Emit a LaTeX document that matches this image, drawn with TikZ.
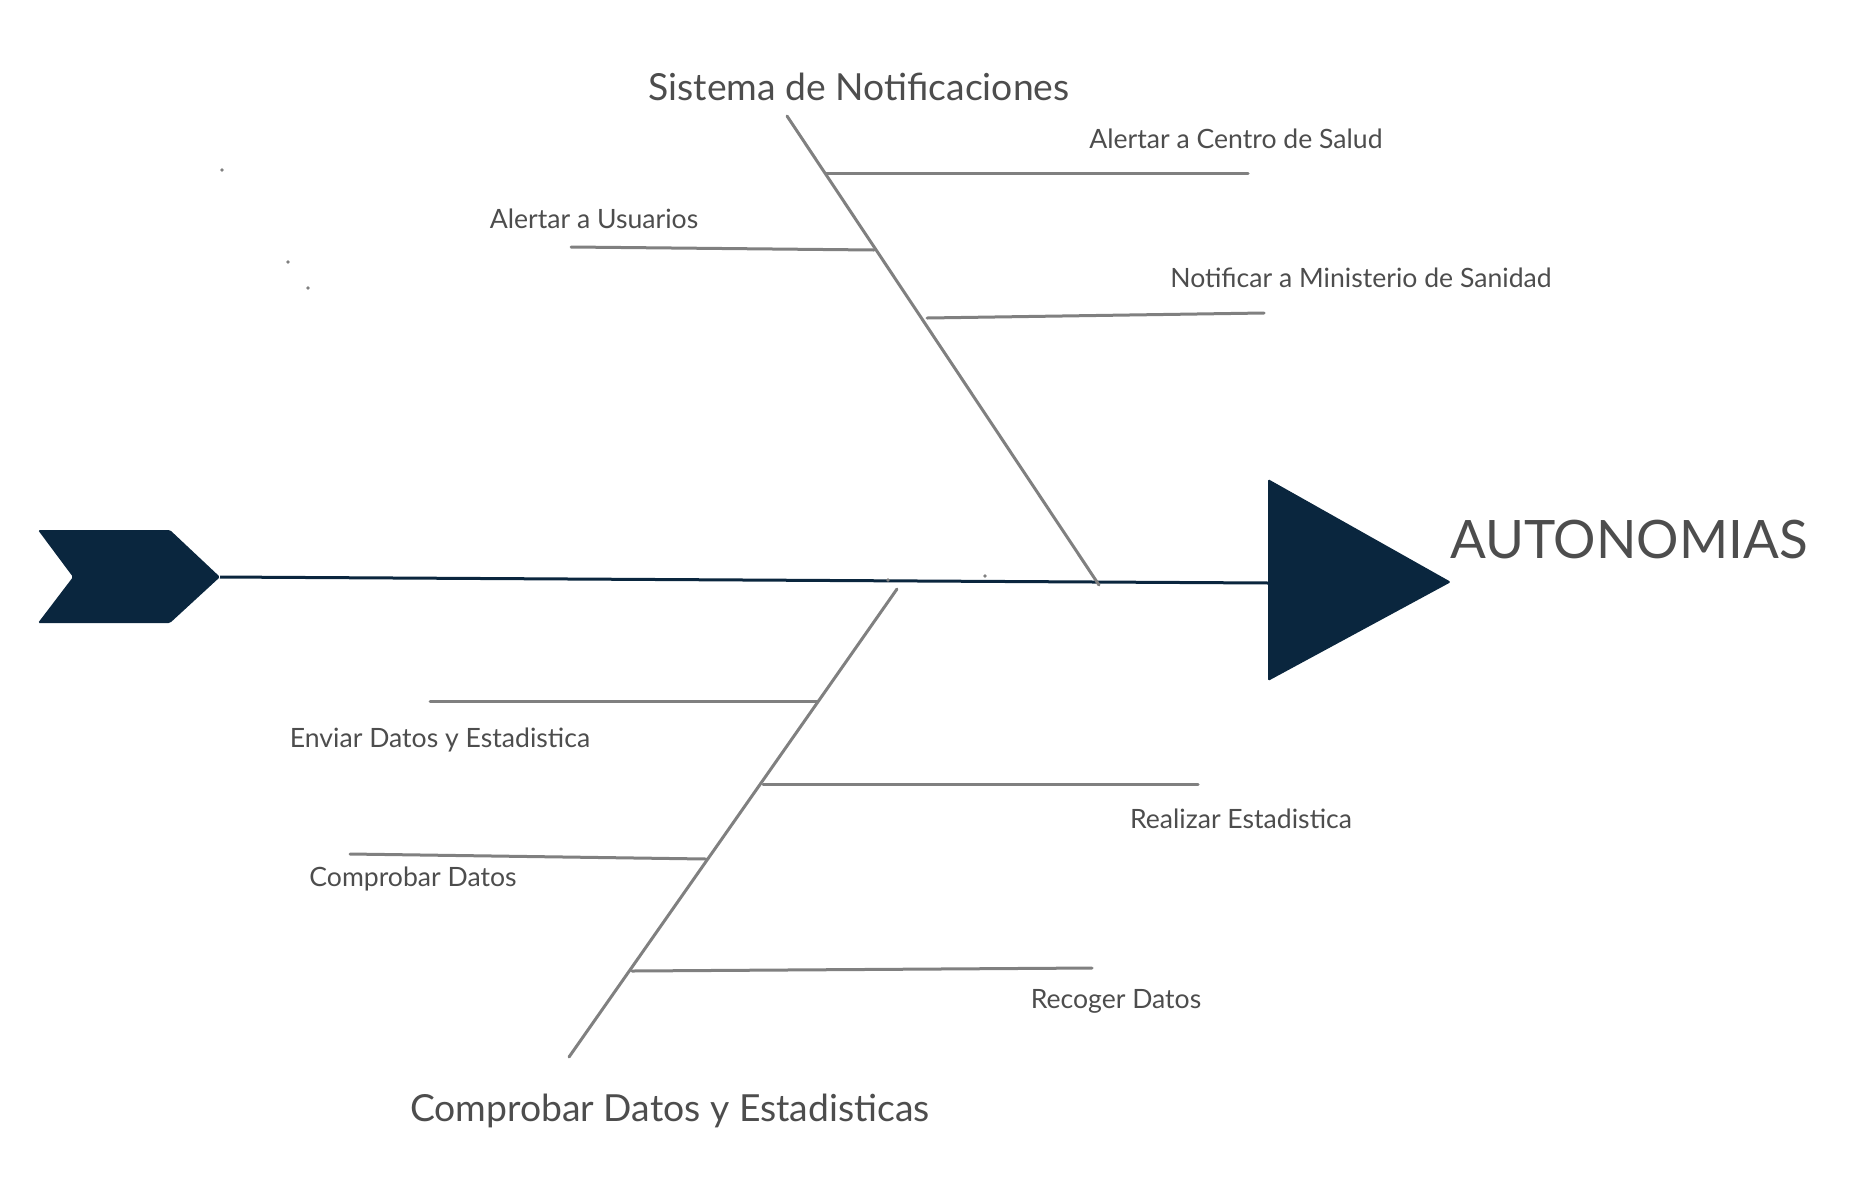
\documentclass[tikz,border=0pt]{standalone}
\usepackage{fontspec}
\setmainfont{Lato}
\definecolor{navy}{HTML}{0A263E}
\definecolor{bonegray}{HTML}{808080}
\definecolor{txt}{HTML}{4D4D4D}
\begin{document}
\begin{tikzpicture}[x=1pt,y=-1pt,
  bone/.style={draw=bonegray,line width=3pt,line cap=round},
  lbl/.style={text=txt,font=\fontsize{26.6}{32}\selectfont,inner sep=0pt},
  ttl/.style={text=txt,font=\fontsize{37.3}{44}\selectfont,inner sep=0pt},
  dotmark/.style={fill=bonegray,draw=none}]
\useasboundingbox (0,0) rectangle (1873,1192);
% tail chevron
\coordinate (tailtip) at (220,577);
\fill[navy,rounded corners=1.5pt] (38,530) -- (170,530) -- (tailtip) -- (170,623) -- (38,623) -- (73,577) -- cycle;
% head triangle
\coordinate (headbase) at (1269,583);
\fill[navy,rounded corners=1.5pt] (1268,479) -- (1451,582) -- (1268,681) -- cycle;
% spine
\draw[navy,line width=3pt] (tailtip) -- (headbase);
\node[text=txt,font=\fontsize{53}{62}\selectfont,inner sep=0pt] (effect) at (1629,540) {AUTONOMIAS};
% upper bone
\coordinate (ub1) at (787,116);
\coordinate (ub2) at (1099,585);
\draw[bone] (ub1) -- (ub2);
\node[ttl] (t1) at (859,87) {Sistema de Notificaciones};
\coordinate (r1a) at (826,173); \coordinate (r1b) at (1248,173);
\coordinate (r2a) at (874,250); \coordinate (r2b) at (571,247);
\coordinate (r3a) at (927,318); \coordinate (r3b) at (1264,313);
\draw[bone] (r1a) -- (r1b);
\draw[bone] (r2a) -- (r2b);
\draw[bone] (r3a) -- (r3b);
\node[lbl] (l1) at (1236,139) {Alertar a Centro de Salud};
\node[lbl] (l2) at (594,219) {Alertar a Usuarios};
\node[lbl] (l3) at (1361,278) {Notificar a Ministerio de Sanidad};
% lower bone
\coordinate (lb1) at (897,589);
\coordinate (lb2) at (569,1057);
\draw[bone] (lb1) -- (lb2);
\node[ttl] (t2) at (670,1111) {Comprobar Datos y Estadisticas};
\coordinate (s1a) at (818,701); \coordinate (s1b) at (430,701);
\coordinate (s2a) at (763,784); \coordinate (s2b) at (1198,784);
\coordinate (s3a) at (706,859); \coordinate (s3b) at (350,854);
\coordinate (s4a) at (632,971); \coordinate (s4b) at (1092,968);
\draw[bone] (s1a) -- (s1b);
\draw[bone] (s2a) -- (s2b);
\draw[bone] (s3a) -- (s3b);
\draw[bone] (s4a) -- (s4b);
\node[lbl] (m1) at (440,740) {Enviar Datos y Estadistica};
\node[lbl] (m2) at (1241,819) {Realizar Estadistica};
\node[lbl] (m3) at (413,879) {Comprobar Datos};
\node[lbl] (m4) at (1116,1001) {Recoger Datos};
% stray dots
\fill[dotmark] (222,170) circle (1.8);
\fill[dotmark] (288,262) circle (1.8);
\fill[dotmark] (308,288) circle (1.8);
\fill[dotmark] (888,580) circle (1.8);
\fill[dotmark] (985,576) circle (1.8);
\end{tikzpicture}
\end{document}
